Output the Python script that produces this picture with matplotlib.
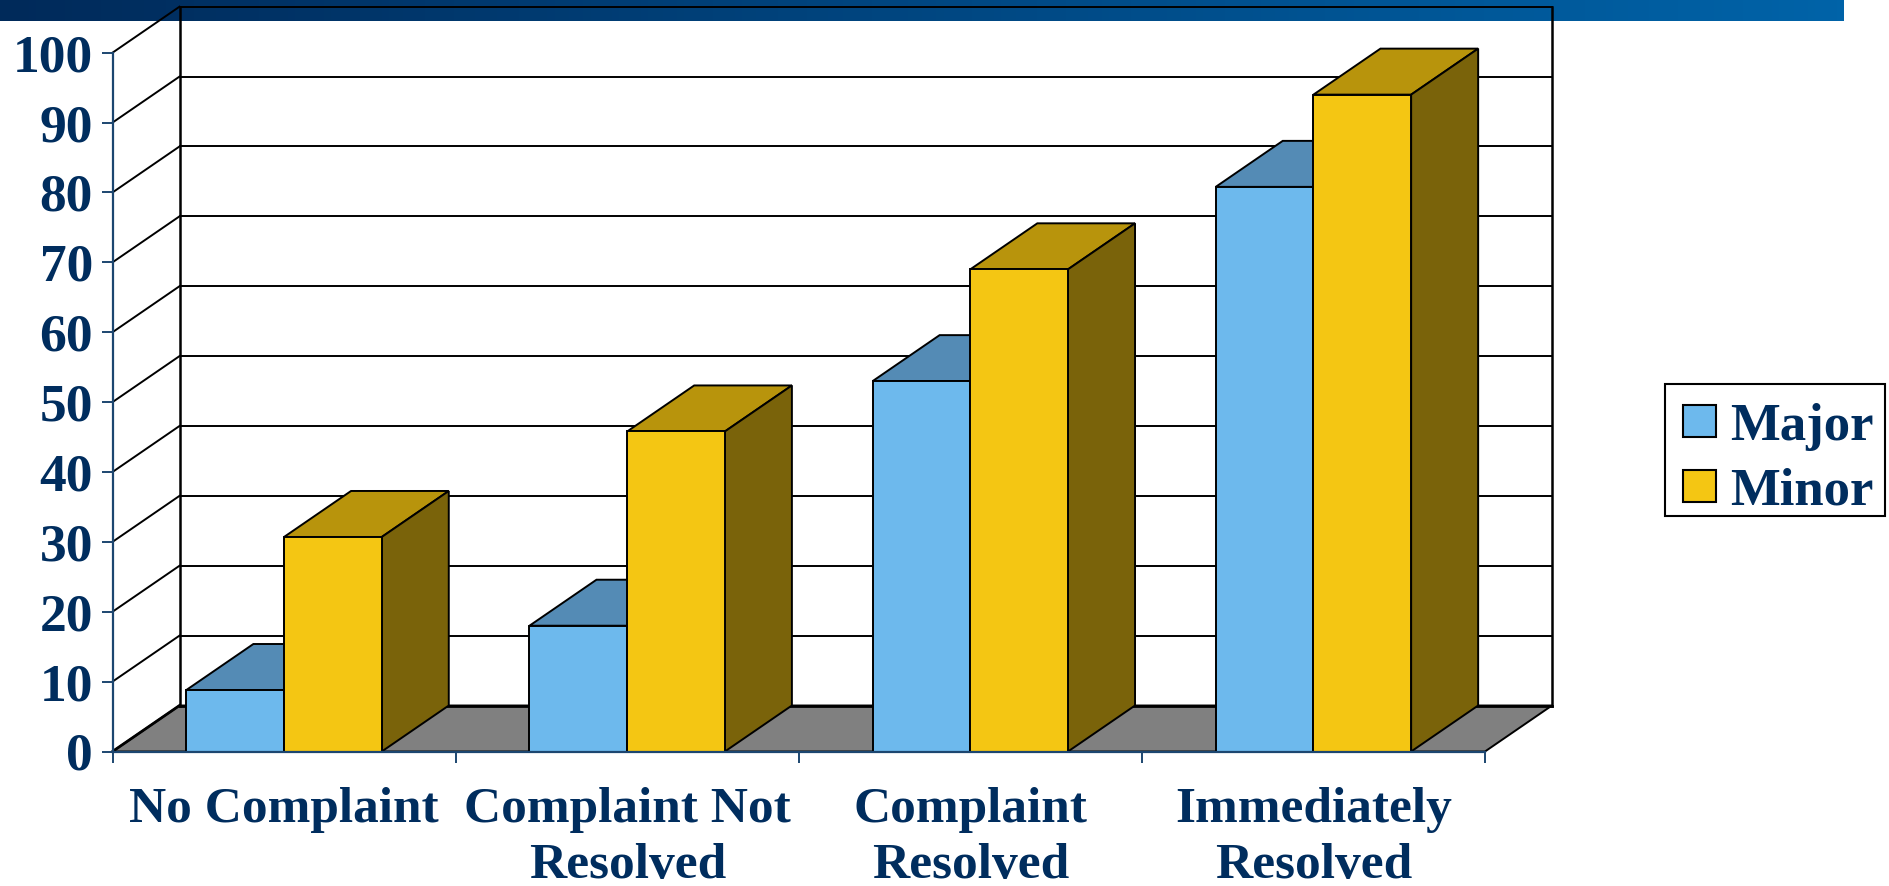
import numpy as np
import matplotlib
matplotlib.use('Agg')
import matplotlib.pyplot as plt
from matplotlib.patches import Patch, Polygon, Rectangle

categories = ['No Complaint', 'Complaint Not\nResolved', 'Complaint\nResolved', 'Immediately\nResolved']
major = [8.8, 18, 53, 80.8]
minor = [30.7, 45.8, 69, 94]
y_ticks = [0, 10, 20, 30, 40, 50, 60, 70, 80, 90, 100]

NAVY = '#002d5e'
AXIS_NAVY = '#1c4670'
MAJOR_FRONT, MAJOR_TOP = '#6db9ed', '#548bb5'
MINOR_FRONT, MINOR_TOP, MINOR_SIDE = '#f4c613', '#b8940c', '#7a630a'

W, H = 1889, 886
plt.rcParams['font.family'] = ['Liberation Serif', 'DejaVu Serif']
plt.rcParams['font.weight'] = 'bold'

fig = plt.figure(figsize=(W / 100, H / 100), dpi=100)

# top band
band = fig.add_axes([0, 1 - 21 / H, 1843.7 / W, 21 / H], zorder=0)
band.imshow(np.linspace(0, 1, 256).reshape(1, -1), aspect='auto',
            cmap=matplotlib.colors.LinearSegmentedColormap.from_list('b', ['#002a5a', '#0063a8']))
band.axis('off')

# legend box
fig.add_artist(Rectangle((1665 / W, 1 - 516 / H), 220 / W, 132 / H, transform=fig.transFigure,
                         fc='white', ec='black', lw=1.5, zorder=0.5))

# front plane of the chart
ax = fig.add_axes([112.5 / W, 1 - 751.5 / H, (1485 - 112.5) / W, (751.5 - 52.7) / H], zorder=1)
ax.patch.set_alpha(0)
ax.set_xlim(0, 4)
ax.set_ylim(0, 100)

# depth of the fake 3d box, in data units
dx = 67 / 343.1
dy = 46 / 6.988
LW = 1.4

def block(x0, x1, v, top, side, z):
    ax.add_patch(Polygon([(x0, v), (x0 + dx, v + dy), (x1 + dx, v + dy), (x1, v)], closed=True,
                         fc=top, ec='black', lw=LW, zorder=z, clip_on=False))
    ax.add_patch(Polygon([(x1, 0), (x1 + dx, dy), (x1 + dx, v + dy), (x1, v)], closed=True,
                         fc=side, ec='black', lw=LW, zorder=z, clip_on=False))

# floor
ax.add_patch(Polygon([(0, 0), (dx, dy), (4 + dx, dy), (4, 0)], closed=True, fc='#808080',
                     ec='black', lw=LW, zorder=1, clip_on=False))

# walls and grid
for v in y_ticks:
    lw = 2.0 if v == 0 else LW
    ax.plot([0, dx], [v, v + dy], color='black', lw=lw, zorder=1.5, clip_on=False)
    ax.plot([dx, 4 + dx], [v + dy, v + dy], color='black', lw=lw, zorder=1.5, clip_on=False)
ax.plot([dx, dx], [dy, 100 + dy], color='black', lw=1.8, zorder=1.5, clip_on=False)
ax.plot([4 + dx, 4 + dx], [dy, 100 + dy], color='black', lw=1.8, zorder=1.5, clip_on=False)

# bars
bw = 97.7 / 343.1
centers = np.arange(4) + 0.5
for i, c in enumerate(centers):
    block(c - bw, c, major[i], MAJOR_TOP, MAJOR_TOP, 3 + i)
    ax.bar(c - bw / 2, major[i], bw, color=MAJOR_FRONT, edgecolor='black', lw=LW, zorder=3.2 + i)
    block(c, c + bw, minor[i], MINOR_TOP, MINOR_SIDE, 3.4 + i)
    ax.bar(c + bw / 2, minor[i], bw, color=MINOR_FRONT, edgecolor='black', lw=LW, zorder=3.6 + i)

# axes
for s in ['top', 'right']:
    ax.spines[s].set_visible(False)
for s in ['left', 'bottom']:
    ax.spines[s].set_color(AXIS_NAVY)
    ax.spines[s].set_linewidth(1.6)
    ax.spines[s].set_zorder(20)

ax.set_yticks(y_ticks)
ax.tick_params(axis='y', length=8, width=1.4, color=AXIS_NAVY, labelcolor=NAVY, labelsize=38.5, pad=6)
ax.set_xticks([0, 1, 2, 3, 4])
ax.set_xticklabels([])
ax.tick_params(axis='x', which='major', length=8, width=1.4, color=AXIS_NAVY)
ax.set_xticks(centers, minor=True)
ax.set_xticklabels(categories, minor=True, color=NAVY, fontsize=37, linespacing=1.3)
ax.tick_params(axis='x', which='minor', length=0, pad=25.5)

handles = [Patch(fc=MAJOR_FRONT, ec='black', lw=1.5), Patch(fc=MINOR_FRONT, ec='black', lw=1.5)]
leg = ax.legend(handles, ['Major', 'Minor'], loc='upper left',
                bbox_to_anchor=(1665 / W, 1 - 385 / H), bbox_transform=fig.transFigure,
                borderaxespad=0, frameon=False,
                prop={'size': 38, 'weight': 'bold'}, labelcolor=NAVY,
                handlelength=0.625, handleheight=0.57, handletextpad=0.28,
                labelspacing=0.32, borderpad=0.335)
leg.set_zorder(30)

fig.savefig('out.png', dpi=100)
